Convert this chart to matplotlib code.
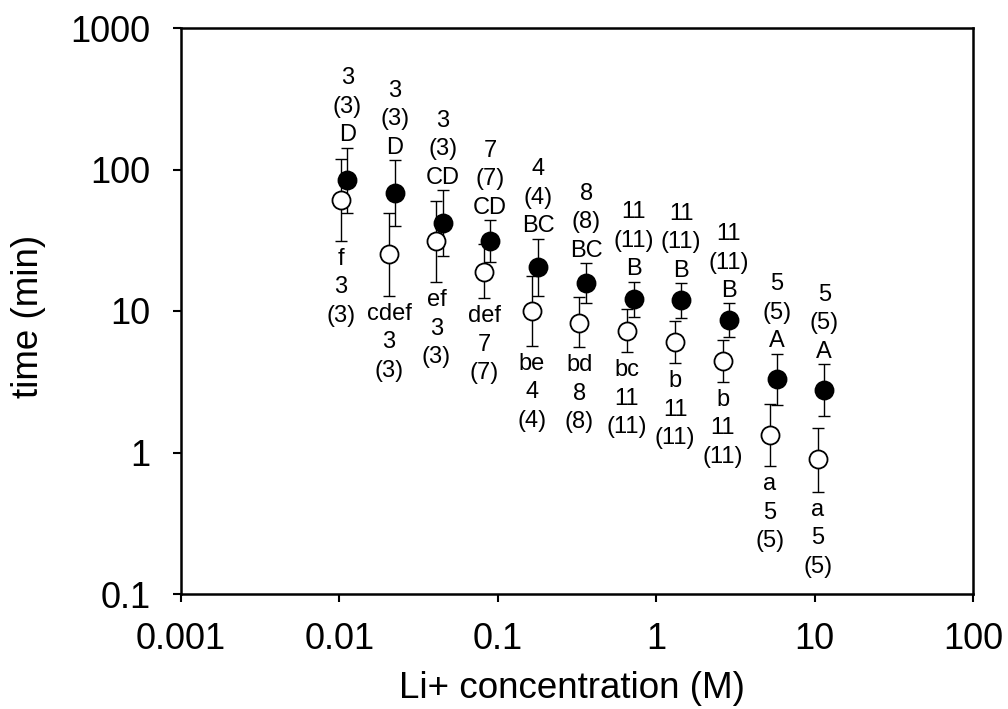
import matplotlib
matplotlib.use("Agg")
import matplotlib.pyplot as plt
import numpy as np

plt.rcParams['font.family'] = ['Liberation Sans', 'DejaVu Sans']

# ---- data ----
conc_open = [0.0102, 0.0206, 0.041, 0.082, 0.164, 0.327, 0.652, 1.315, 2.63, 5.23, 10.46]
conc_filled = [0.0112, 0.0224, 0.0449, 0.0893, 0.180, 0.361, 0.721, 1.435, 2.88, 5.77, 11.5]

time_open = [60.9, 25.1, 31.2, 19.0, 10.0, 8.27, 7.26, 6.07, 4.45, 1.33, 0.895]
open_upper = [118.6, 49.0, 60.2, 29.6, 17.8, 12.5, 10.3, 8.55, 6.24, 2.19, 1.49]
open_lower = [31.2, 12.8, 16.0, 12.3, 5.66, 5.54, 5.1, 4.27, 3.15, 0.80, 0.528]

time_filled = [84.3, 67.9, 42.1, 31.2, 20.4, 15.85, 12.2, 11.97, 8.63, 3.31, 2.77]
filled_upper = [142.6, 116.8, 71.6, 44.0, 32.4, 21.8, 16.1, 15.7, 11.3, 4.99, 4.2]
filled_lower = [49.0, 39.9, 24.5, 22.1, 12.8, 11.3, 9.12, 8.97, 6.55, 2.15, 1.82]

n_samples = [3, 3, 3, 7, 4, 8, 11, 11, 11, 5, 5]
letters_filled = ['D', 'D', 'CD', 'CD', 'BC', 'BC', 'B', 'B', 'B', 'A', 'A']
letters_open = ['f', 'cdef', 'ef', 'def', 'be', 'bd', 'bc', 'b', 'b', 'a', 'a']

x_ticks = [0.001, 0.01, 0.1, 1, 10, 100]
x_ticklabels = ['0.001', '0.01', '0.1', '1', '10', '100']
y_ticks = [0.1, 1, 10, 100, 1000]
y_ticklabels = ['0.1', '1', '10', '100', '1000']

# ---- figure ----
fig = plt.figure(figsize=(10.08, 7.09), dpi=100)
ax = fig.add_axes([181 / 1008, 1 - 594 / 709, 792 / 1008, 566 / 709])
ax.set_xscale('log')
ax.set_yscale('log')
ax.set_xlim(0.001, 100)
ax.set_ylim(0.1, 1000)

to = np.array(time_open)
tf = np.array(time_filled)
err_open = [to - np.array(open_lower), np.array(open_upper) - to]
err_filled = [tf - np.array(filled_lower), np.array(filled_upper) - tf]

ax.errorbar(conc_filled, time_filled, yerr=err_filled, fmt='none', ecolor='black',
            elinewidth=1.0, capsize=4.3, capthick=1.0, zorder=2)
ax.errorbar(conc_open, time_open, yerr=err_open, fmt='none', ecolor='black',
            elinewidth=1.0, capsize=4.3, capthick=1.0, zorder=2)
ax.plot(conc_open, time_open, linestyle='none', marker='o', markersize=13,
        markerfacecolor='white', markeredgecolor='black', markeredgewidth=1.3, zorder=3)
ax.plot(conc_filled, time_filled, linestyle='none', marker='o', markersize=13,
        markerfacecolor='black', markeredgecolor='black', markeredgewidth=1.3, zorder=4)

for x, top, n, let in zip(conc_filled, filled_upper, n_samples, letters_filled):
    ax.annotate(f"{n}\n({n})\n{let}", xy=(x, top), xytext=(0, 1), textcoords='offset points',
                ha='center', va='bottom', fontsize=17, linespacing=1.38, zorder=5)
for x, low, n, let in zip(conc_open, open_lower, n_samples, letters_open):
    ax.annotate(f"{let}\n{n}\n({n})", xy=(x, low), xytext=(0, -5), textcoords='offset points',
                ha='center', va='top', fontsize=17, linespacing=1.38, zorder=5)

ax.set_xticks(x_ticks)
ax.set_xticklabels(x_ticklabels)
ax.set_yticks(y_ticks)
ax.set_yticklabels(y_ticklabels)
ax.minorticks_off()
ax.tick_params(axis='both', which='major', direction='out', length=6, width=1.5,
               labelsize=26, colors='black')
ax.tick_params(axis='x', pad=14)
ax.tick_params(axis='y', pad=16)
for s in ax.spines.values():
    s.set_linewidth(1.8)
    s.set_color('black')

ax.set_xlabel('Li+ concentration (M)', fontsize=26.5)
ax.set_ylabel('time (min)', fontsize=26.5)
ax.xaxis.set_label_coords((572 - 181) / 792, -(689 - 594) / 566)
ax.xaxis.label.set_va('center')
ax.yaxis.set_label_coords(-(181 - 28) / 792, (594 - 316) / 566)
ax.yaxis.label.set_va('center')

fig.savefig('out.png', dpi=100)
